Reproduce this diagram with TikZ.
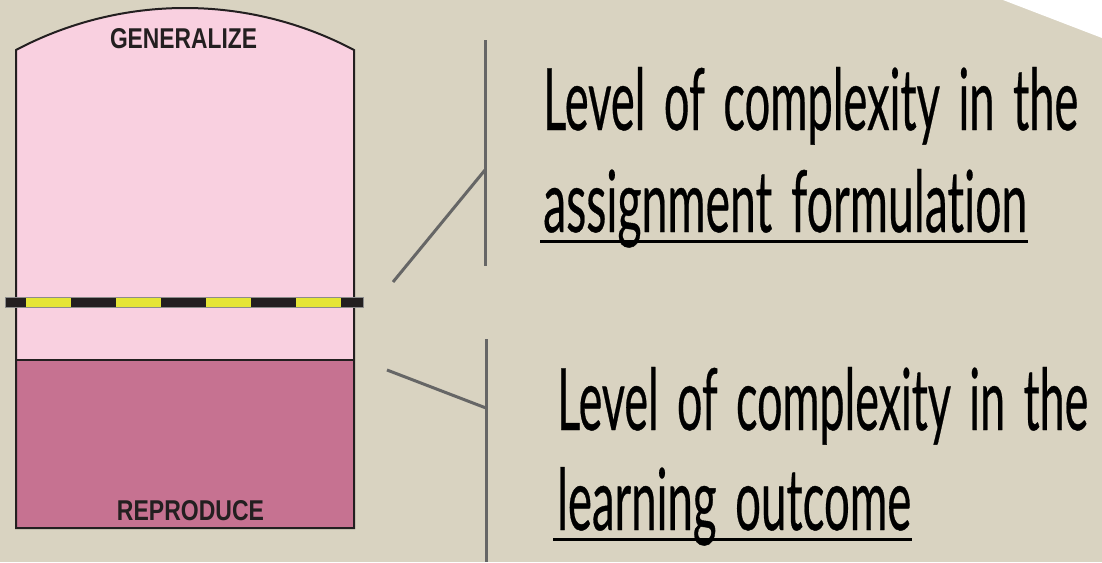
\documentclass[tikz,border=0pt]{standalone}
\usepackage{fontspec}
\usepackage{graphicx}
\newfontfamily\handfont{Lato}[Ligatures={NoCommon}, WordSpace=1.6, FakeBold=0.5]
\newfontfamily\labelfont{Liberation Sans}
\definecolor{bgc}{HTML}{D9D3C1}
\definecolor{pinklight}{HTML}{F9D0E0}
\definecolor{pinkdark}{HTML}{C67291}
\definecolor{outline}{HTML}{231F20}
\definecolor{barblack}{HTML}{231F20}
\definecolor{baryellow}{HTML}{E5E535}
\definecolor{linegray}{HTML}{666666}
\tikzset{
  grayline/.style={draw=linegray, line width=3pt},
  boxborder/.style={draw=outline, line width=2pt},
  handtext/.style={anchor=base west, inner sep=0pt, text=black, font=\handfont\fontsize{80}{80}\selectfont},
  levellabel/.style={anchor=base, inner sep=0pt, text=outline, font=\labelfont\bfseries\fontsize{24}{24}\selectfont},
  uline/.style={draw=black, line width=3pt}
}
\begin{document}
\begin{tikzpicture}[x=1pt, y=-1pt]
\useasboundingbox (0,0) rectangle (1102,562);
\fill[bgc] (0,0) rectangle (1102,562);
% white corner
\fill[white] (1003,0) -- (1102,0) -- (1102,38) -- cycle;
% container
\fill[pinklight] (16,50) .. controls (121.7,-6) and (248.3,-6) .. (354,50) -- (354,360) -- (16,360) -- cycle;
\fill[pinkdark] (16,360) rectangle (354,528);
\draw[boxborder] (16,50) .. controls (121.7,-6) and (248.3,-6) .. (354,50) -- (354,528) -- (16,528) -- cycle;
\draw[boxborder] (16,360) -- (354,360);
% hazard bar
\fill[barblack] (5,297) rectangle (363,307.5);
\foreach \xx in {26,116,206,296}{
  \fill[baryellow] (\xx,297.6) rectangle (\xx+45,306.9);
}
\draw[draw=black!45, line width=0.6pt] (5,297) rectangle (363,307.5);
% labels
\node[levellabel] (gen) at (183.5,48) {\resizebox{147pt}{20pt}{GENERALIZE}};
\node[levellabel] (rep) at (190.5,520) {\resizebox{147pt}{20pt}{REPRODUCE}};
% gray brackets
\coordinate (t1) at (485,40);
\coordinate (t2) at (485,266);
\coordinate (tj) at (485,170);
\coordinate (te) at (393,282);
\draw[grayline] (t1) -- (t2);
\draw[grayline] (te) -- (tj);
\coordinate (b1) at (486,339);
\coordinate (b2) at (486,562);
\coordinate (bj) at (486,408);
\coordinate (be) at (387,370);
\draw[grayline] (b1) -- (b2);
\draw[grayline] (be) -- (bj);
% texts
\node[handtext] (ta) at (543,130) {\resizebox{535pt}{63pt}{Level of complexity in the}};
\node[handtext] (tb) at (543,232) {\resizebox{484pt}{63pt}{assignment formulation}};
\node[handtext] (ba) at (557,430) {\resizebox{531pt}{63pt}{Level of complexity in the}};
\node[handtext] (bb) at (557,530) {\resizebox{354pt}{63pt}{learning outcome}};
\draw[uline] ([xshift=-3pt,yshift=-9.5pt]tb.base west) -- ([xshift=1pt,yshift=-9.5pt]tb.base east);
\draw[uline] ([xshift=-4pt,yshift=-9.5pt]bb.base west) -- ([xshift=1pt,yshift=-9.5pt]bb.base east);
\end{tikzpicture}
\end{document}
